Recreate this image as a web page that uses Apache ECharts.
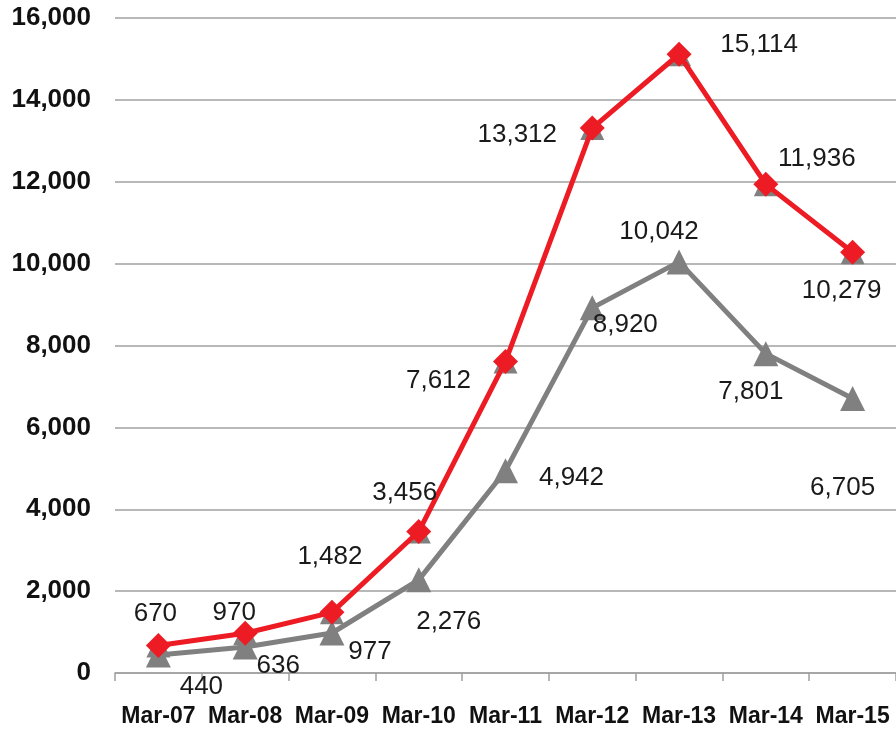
<!DOCTYPE html>
<html><head><meta charset="utf-8">
<script src="https://cdn.jsdelivr.net/npm/echarts@6/dist/echarts.min.js"></script>
<style>html,body{margin:0;padding:0;background:#fff}#c{width:896px;height:729px}</style>
</head><body><div id="c"></div>
<script>
var categories = ['Mar-07','Mar-08','Mar-09','Mar-10','Mar-11','Mar-12','Mar-13','Mar-14','Mar-15'];
var redValues = [670, 970, 1482, 3456, 7612, 13312, 15114, 11936, 10279];
var grayValues = [440, 636, 977, 2276, 4942, 8920, 10042, 7801, 6705];
var yTicks = [0, 2000, 4000, 6000, 8000, 10000, 12000, 14000, 16000];

var redOffsets = [[-3,-32],[-11,-20],[-2,-56],[-14,-39],[-67,19],[-75,7],[80,-9],[51,-26],[-11,39]];
var grayOffsets = [[43,32],[33,19],[38,19],[30,42],[66,7],[33,17],[-20,-30],[-15,38],[-10,89]];

function fmt(v){ return v.toLocaleString('en-US'); }
function withLabels(vals, offs){
  return vals.map(function(v,i){
    return {value:v, label:{offset:offs[i]}};
  });
}
var labelStyle = {show:true, position:'inside', align:'center', verticalAlign:'middle',
  fontFamily:'Liberation Sans, Arial, sans-serif', fontSize:26, color:'#1a1a1a',
  formatter:function(p){return fmt(p.value);}};

var chart = echarts.init(document.getElementById('c'));
chart.setOption({
  animation:false,
  backgroundColor:'#fff',
  grid:{left:115, width:783, top:18, bottom:56},
  xAxis:{type:'category', data:categories, boundaryGap:true,
    axisLine:{show:true, lineStyle:{color:'#a0a0a0', width:1.5}},
    axisTick:{show:true, length:8, interval:0, lineStyle:{color:'#a0a0a0', width:1.5}},
    axisLabel:{interval:0, fontFamily:'Liberation Sans, Arial, sans-serif', fontWeight:'bold', fontSize:23, color:'#111', margin:32}},
  yAxis:{type:'value', min:yTicks[0], max:yTicks[yTicks.length-1], interval:2000,
    axisLine:{show:false}, axisTick:{show:false},
    splitLine:{lineStyle:{color:'#a0a0a0', width:1.5}},
    axisLabel:{fontFamily:'Liberation Sans, Arial, sans-serif', fontWeight:'bold', fontSize:26, color:'#111', margin:24,
      formatter:function(v){return fmt(v);}}},
  series:[
    {type:'line', data:redValues, symbol:'triangle', symbolSize:24, silent:true,
      lineStyle:{opacity:0}, itemStyle:{color:'#808080'}, z:1},
    {type:'line', data:withLabels(grayValues, grayOffsets), symbol:'triangle', symbolSize:25,
      lineStyle:{color:'#808080', width:5}, itemStyle:{color:'#808080'}, label:labelStyle, z:2},
    {type:'line', data:withLabels(redValues, redOffsets), symbol:'diamond', symbolSize:25,
      lineStyle:{color:'#ed1c24', width:5}, itemStyle:{color:'#ed1c24'}, label:labelStyle, z:3}
  ]
});
</script></body></html>
